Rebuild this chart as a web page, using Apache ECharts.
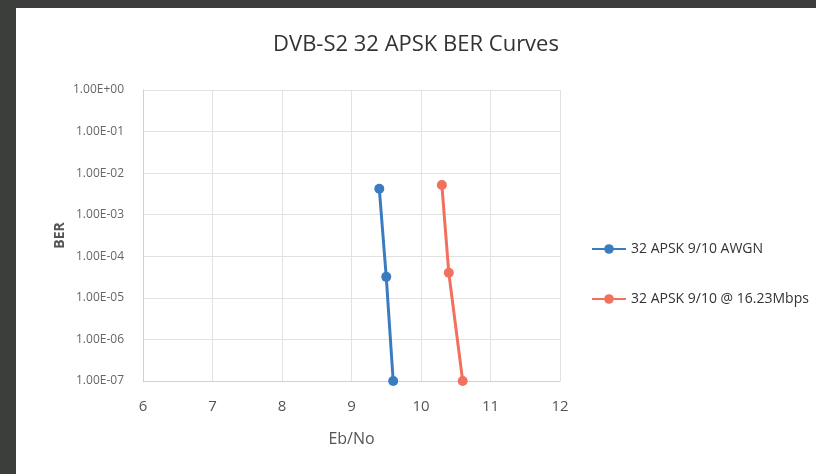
<!DOCTYPE html>
<html><head><meta charset="utf-8">
<script src="https://cdn.jsdelivr.net/npm/echarts@6/dist/echarts.min.js"></script>
<style>
html,body{margin:0;padding:0;background:#3b3e3b;width:816px;height:474px;overflow:hidden}
#c{position:absolute;left:16px;top:8px;width:800px;height:466px;background:#fff}
</style></head><body><div id="c"></div>
<script>
const titleText = "DVB-S2 32 APSK BER Curves";
const seriesNames = ["32 APSK 9/10 AWGN", "32 APSK 9/10 @ 16.23Mbps"];
const awgnEbNo = [9.4, 9.5, 9.6];
const awgnBER = [4.2e-3, 3.2e-5, 1e-7];
const mbpsEbNo = [10.3, 10.4, 10.6];
const mbpsBER = [5.2e-3, 4.0e-5, 1e-7];
const colors = ["#3a7cc0", "#f2705e"];

function fmt(v){
  const e = Math.round(Math.log10(v));
  const s = e < 0 ? "-" : "+";
  const a = Math.abs(e);
  return "1.00E" + s + (a < 10 ? "0" + a : a);
}
const font = "'Open Sans', sans-serif";
const chart = echarts.init(document.getElementById('c'));
chart.setOption({
  backgroundColor: '#fff',
  animation: false,
  title: { text: titleText, left: 'center', top: 21,
    textStyle: { fontFamily: font, fontSize: 22, fontWeight: 'normal', color: '#333' } },
  grid: { left: 127, top: 82, width: 417, height: 291 },
  legend: {
    orient: 'vertical', left: 570, top: 229, itemGap: 36,
    itemWidth: 34, itemHeight: 12,
    textStyle: { fontFamily: font, fontSize: 14, color: '#333' },
    data: seriesNames
  },
  xAxis: {
    type: 'value', min: 6, max: 12, interval: 1,
    name: 'Eb/No', nameLocation: 'middle', nameGap: 50,
    nameTextStyle: { fontFamily: font, fontSize: 16, color: '#555' },
    axisLine: { show: true, lineStyle: { color: '#d0d0d0' } },
    axisTick: { show: false },
    axisLabel: { fontFamily: font, fontSize: 15, color: '#555', margin: 18 },
    splitLine: { show: true, lineStyle: { color: '#e2e2e2' } }
  },
  yAxis: {
    type: 'log', min: 1e-7, max: 1, logBase: 10,
    name: 'BER', nameLocation: 'middle', nameGap: 76, nameRotate: 90,
    nameMoveOverlap: false,
    nameTextStyle: { fontFamily: font, fontSize: 14, fontWeight: 'bold', color: '#555' },
    axisLine: { show: true, lineStyle: { color: '#d0d0d0' } },
    axisTick: { show: false },
    axisLabel: { fontFamily: font, fontSize: 12, color: '#666', margin: 19, formatter: fmt },
    splitLine: { show: true, lineStyle: { color: '#e2e2e2' } }
  },
  series: [
    { name: seriesNames[0], type: 'line', color: colors[0],
      data: awgnEbNo.map((x,i)=>[x, awgnBER[i]]),
      symbol: 'circle', symbolSize: 10, lineStyle: { width: 3 } },
    { name: seriesNames[1], type: 'line', color: colors[1],
      data: mbpsEbNo.map((x,i)=>[x, mbpsBER[i]]),
      symbol: 'circle', symbolSize: 10, lineStyle: { width: 3 } }
  ]
});
</script></body></html>
